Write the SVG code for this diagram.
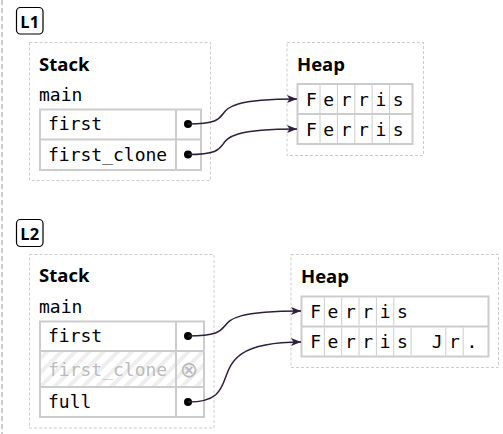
<svg xmlns="http://www.w3.org/2000/svg" width="503" height="434" viewBox="0 0 503 434">
<style>
.frame{fill:none;stroke:#cccccc;stroke-width:1;stroke-dasharray:3 2}
.tbl{fill:none;stroke:#cccccc;stroke-width:2}
.div{stroke:#cccccc;stroke-width:1}
.hd{font-family:"Open Sans","Noto Sans",sans-serif;font-weight:700;font-size:18.5px;fill:#000}
.lbl{font-family:"Open Sans","Noto Sans",sans-serif;font-weight:700;font-size:16.5px;fill:#000}
.mono{font-family:"DejaVu Sans Mono","Liberation Mono",monospace;font-size:18px;fill:#000}
.ch{font-family:"DejaVu Sans Mono","Liberation Mono",monospace;font-size:18px;fill:#000;text-anchor:middle}
.moved{fill:#bbbbbb}
.sym{font-family:"DejaVu Sans",sans-serif;font-size:22px;fill:#bbbbbb;text-anchor:middle}
.lab{fill:#fff;stroke:#000;stroke-width:1.2}
.dot{fill:#000}
.conn{fill:none;stroke:#2e1f3d;stroke-width:1.5}
</style>
<defs>
<marker id="ah" viewBox="0 0 10 8" refX="10" refY="4" markerWidth="10" markerHeight="8" orient="auto" markerUnits="userSpaceOnUse">
<path d="M0,0 L10,4 L0,8 L2.5,4 z" fill="#2e1f3d"/>
</marker>
<pattern id="hatch" patternUnits="userSpaceOnUse" width="10" height="10" patternTransform="rotate(45)">
<rect width="10" height="10" fill="#ffffff"/>
<rect width="4" height="10" fill="#eeeeee"/>
</pattern>
</defs>

<line x1="2" y1="0" x2="2" y2="434" stroke="#cccccc" stroke-width="2" stroke-dasharray="5 3"/>

<g id="l1-label">
<rect class="lab" x="16.5" y="7.5" width="26.5" height="26.5" rx="4"/>
<text class="lbl" x="29.75" y="27.5" text-anchor="middle">L1</text>
</g>

<g id="l1-stack">
<rect class="frame" x="29.5" y="42.5" width="181" height="138"/>
<text class="hd" x="39" y="71">Stack</text>
<text class="mono" x="39" y="101">main</text>
<rect class="tbl" x="40" y="109.5" width="161" height="60.5"/>
<line class="tbl" x1="40" y1="139.5" x2="201" y2="139.5"/>
<line class="tbl" x1="176" y1="109.5" x2="176" y2="170"/>
<text class="mono" x="48" y="130">first</text>
<text class="mono" x="48" y="160.5">first_clone</text>
<circle class="dot" cx="188" cy="124" r="4"/>
<circle class="dot" cx="188" cy="154.5" r="4"/>
</g>

<g id="l1-heap">
<rect class="frame" x="287" y="42.5" width="136.5" height="113"/>
<text class="hd" x="297" y="71">Heap</text>
<rect class="tbl" x="297.5" y="84" width="115" height="60"/>
<line class="tbl" x1="297.5" y1="114" x2="412.5" y2="114"/>
<g class="div">
<line x1="320" y1="85" x2="320" y2="113"/><line x1="337.4" y1="85" x2="337.4" y2="113"/><line x1="354.8" y1="85" x2="354.8" y2="113"/><line x1="372.1" y1="85" x2="372.1" y2="113"/><line x1="389.5" y1="85" x2="389.5" y2="113"/>
<line x1="320" y1="115" x2="320" y2="143"/><line x1="337.4" y1="115" x2="337.4" y2="143"/><line x1="354.8" y1="115" x2="354.8" y2="143"/><line x1="372.1" y1="115" x2="372.1" y2="143"/><line x1="389.5" y1="115" x2="389.5" y2="143"/>
</g>
<text class="ch" y="105.5"><tspan x="311.4">F</tspan><tspan x="328.7">e</tspan><tspan x="346.1">r</tspan><tspan x="363.4">r</tspan><tspan x="380.8">i</tspan><tspan x="398.1">s</tspan></text>
<text class="ch" y="135.5"><tspan x="311.4">F</tspan><tspan x="328.7">e</tspan><tspan x="346.1">r</tspan><tspan x="363.4">r</tspan><tspan x="380.8">i</tspan><tspan x="398.1">s</tspan></text>
</g>

<g id="l2-label">
<rect class="lab" x="16.5" y="219.5" width="26.5" height="27" rx="4"/>
<text class="lbl" x="29.75" y="239.5" text-anchor="middle">L2</text>
</g>

<g id="l2-stack">
<rect class="frame" x="29.5" y="254.5" width="184.5" height="173.5"/>
<text class="hd" x="39" y="282">Stack</text>
<text class="mono" x="39" y="313">main</text>
<rect x="40" y="351" width="164" height="36" fill="url(#hatch)"/>
<rect class="tbl" x="40" y="321.5" width="164" height="95.5"/>
<line class="tbl" x1="40" y1="351" x2="204" y2="351"/>
<line class="tbl" x1="40" y1="387" x2="204" y2="387"/>
<line class="tbl" x1="176" y1="321.5" x2="176" y2="417"/>
<text class="mono" x="48" y="342">first</text>
<text class="mono moved" x="48" y="375.5">first_clone</text>
<text class="sym" x="189" y="377">⊗</text>
<text class="mono" x="48" y="408">full</text>
<circle class="dot" cx="188" cy="336" r="4"/>
<circle class="dot" cx="188" cy="402" r="4"/>
</g>

<g id="l2-heap">
<rect class="frame" x="291" y="254.5" width="207.5" height="113"/>
<text class="hd" x="301" y="282.5">Heap</text>
<rect class="tbl" x="301.5" y="296.5" width="187" height="60"/>
<line class="tbl" x1="301.5" y1="326.5" x2="488.5" y2="326.5"/>
<g class="div">
<line x1="324.35" y1="297.5" x2="324.35" y2="325.5"/><line x1="341.7" y1="297.5" x2="341.7" y2="325.5"/><line x1="359.05" y1="297.5" x2="359.05" y2="325.5"/><line x1="376.4" y1="297.5" x2="376.4" y2="325.5"/><line x1="393.75" y1="297.5" x2="393.75" y2="325.5"/>
<line x1="324.35" y1="327.5" x2="324.35" y2="355.5"/><line x1="341.7" y1="327.5" x2="341.7" y2="355.5"/><line x1="359.05" y1="327.5" x2="359.05" y2="355.5"/><line x1="376.4" y1="327.5" x2="376.4" y2="355.5"/><line x1="393.75" y1="327.5" x2="393.75" y2="355.5"/><line x1="411.1" y1="327.5" x2="411.1" y2="355.5"/><line x1="445.8" y1="327.5" x2="445.8" y2="355.5"/><line x1="463.15" y1="327.5" x2="463.15" y2="355.5"/>
</g>
<text class="ch" y="317.5"><tspan x="315.7">F</tspan><tspan x="333">e</tspan><tspan x="350.4">r</tspan><tspan x="367.7">r</tspan><tspan x="385.1">i</tspan><tspan x="402.4">s</tspan></text>
<text class="ch" y="348"><tspan x="315.7">F</tspan><tspan x="333">e</tspan><tspan x="350.4">r</tspan><tspan x="367.7">r</tspan><tspan x="385.1">i</tspan><tspan x="402.4">s</tspan><tspan x="437.1">J</tspan><tspan x="454.5">r</tspan><tspan x="471.8">.</tspan></text>
</g>

<g id="connectors">
<path class="conn" marker-end="url(#ah)" d="M188,124 C252,124 186,99 297,99"/>
<path class="conn" marker-end="url(#ah)" d="M188,154.5 C252,154.5 186,129 297,129"/>
<path class="conn" marker-end="url(#ah)" d="M188,336 C254,336 188,311 301,311"/>
<path class="conn" marker-end="url(#ah)" d="M188,402 C254,402 190,342 301,342"/>
</g>
</svg>
